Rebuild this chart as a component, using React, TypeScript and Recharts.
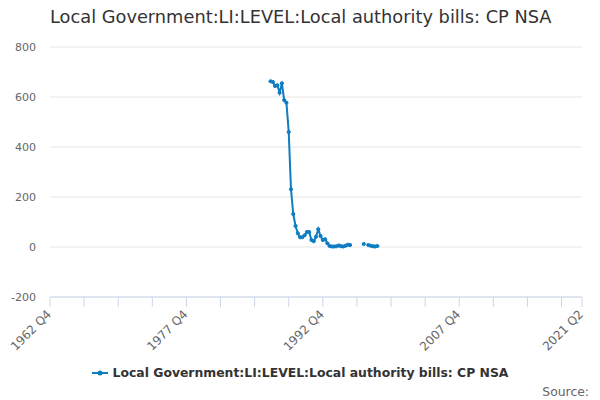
import * as React from "react";
import { LineChart, Line, XAxis, YAxis, CartesianGrid, Legend } from "recharts";

// quarters counted from 1962 Q4 (index 0) up to 2021 Q2 (index 234)
const START_YEAR = 1962;
const START_Q = 4;
const LAST_INDEX = 234;

// first run of readings: 1987 Q1 .. 1995 Q4
const firstIndex = 97;
const firstValues = [
  663, 660, 644, 647, 617, 655, 588, 577, 460, 231, 132, 84,
  55, 39, 39, 47, 60, 60, 28, 23, 41, 71, 44, 28,
  31, 15, 4, 2, 2, 3, 6, 3, 2, 5, 9, 8,
];

// second run: 1997 Q2 .. 1998 Q4 (1997 Q3 missing)
const secondIndex = 138;
const secondValues: (number | null)[] = [12, null, 8, 5, 3, 2, 4];

const tickPositions = [0, 15, 30, 45, 60, 75, 90, 105, 120, 135, 150, 165, 180, 195, 210, 225, 234];
const labelledTicks = [0, 60, 120, 180, 234];
const yTicks = [-200, 0, 200, 400, 600, 800];

const TITLE = "Local Government:LI:LEVEL:Local authority bills: CP NSA";
const FONT = "'DejaVu Sans', sans-serif";
const COLOR = "#0e7dc2";

const quarterLabel = (i: number) => {
  const q0 = START_Q - 1 + i;
  return `${START_YEAR + Math.floor(q0 / 4)} Q${(q0 % 4) + 1}`;
};

const data: { idx: number; value: number | null }[] = [];
firstValues.forEach((v, k) => data.push({ idx: firstIndex + k, value: v }));
for (let i = firstIndex + firstValues.length; i < secondIndex; i++) data.push({ idx: i, value: null });
secondValues.forEach((v, k) => data.push({ idx: secondIndex + k, value: v }));

const XTick = (props: any) => {
  const { x, y, payload } = props;
  if (!labelledTicks.includes(payload.value)) return null;
  return (
    <text
      x={x + 2}
      y={y + 6}
      textAnchor="end"
      transform={`rotate(-45 ${x + 2} ${y + 6})`}
      fontSize={12}
      fill="#666666"
      fontFamily={FONT}
    >
      {quarterLabel(payload.value)}
    </text>
  );
};

const LegendContent = () => (
  <div style={{ display: "flex", justifyContent: "center", alignItems: "center", fontFamily: FONT }}>
    <svg width={16} height={10} style={{ marginRight: 5 }}>
      <line x1={0} y1={5} x2={16} y2={5} stroke={COLOR} strokeWidth={2} />
      <circle cx={8} cy={5} r={2.5} fill={COLOR} />
    </svg>
    <span style={{ fontSize: 12.4, fontWeight: "bold", color: "#333333" }}>{TITLE}</span>
  </div>
);

export default function App() {
  return (
    <div style={{ position: "absolute", left: 0, top: 0, width: 600, height: 400, background: "#fff" }}>
      <div
        style={{
          position: "absolute", left: 50, top: 6, fontSize: 17.8, color: "#333333",
          fontFamily: FONT, whiteSpace: "nowrap",
        }}
      >
        {TITLE}
      </div>
      <LineChart width={600} height={400} data={data} margin={{ top: 47, right: 18, bottom: 20, left: 0 }}>
        <CartesianGrid horizontal vertical={false} stroke="#e6e6e6" />
        <XAxis
          dataKey="idx"
          type="number"
          domain={[0, LAST_INDEX]}
          ticks={tickPositions}
          interval={0}
          tick={<XTick />}
          tickSize={10}
          axisLine={{ stroke: "#ccd6eb" }}
          tickLine={{ stroke: "#ccd6eb" }}
          height={68}
        />
        <YAxis
          domain={[-200, 800]}
          ticks={yTicks}
          axisLine={false}
          tickLine={false}
          width={50}
          tick={{ fontSize: 11, fill: "#666666", fontFamily: FONT }}
          tickMargin={8}
        />
        <Legend
          verticalAlign="bottom"
          content={<LegendContent />}
          wrapperStyle={{ left: 0, width: 600 }}
        />
        <Line
          dataKey="value"
          stroke={COLOR}
          strokeWidth={2}
          dot={{ r: 1.6, fill: COLOR, stroke: COLOR, strokeWidth: 1 }}
          activeDot={false}
          connectNulls={false}
          isAnimationActive={false}
        />
      </LineChart>
      <div
        style={{
          position: "absolute", right: 11, top: 384, fontSize: 12.4, color: "#666666", fontFamily: FONT,
        }}
      >
        Source:
      </div>
    </div>
  );
}
